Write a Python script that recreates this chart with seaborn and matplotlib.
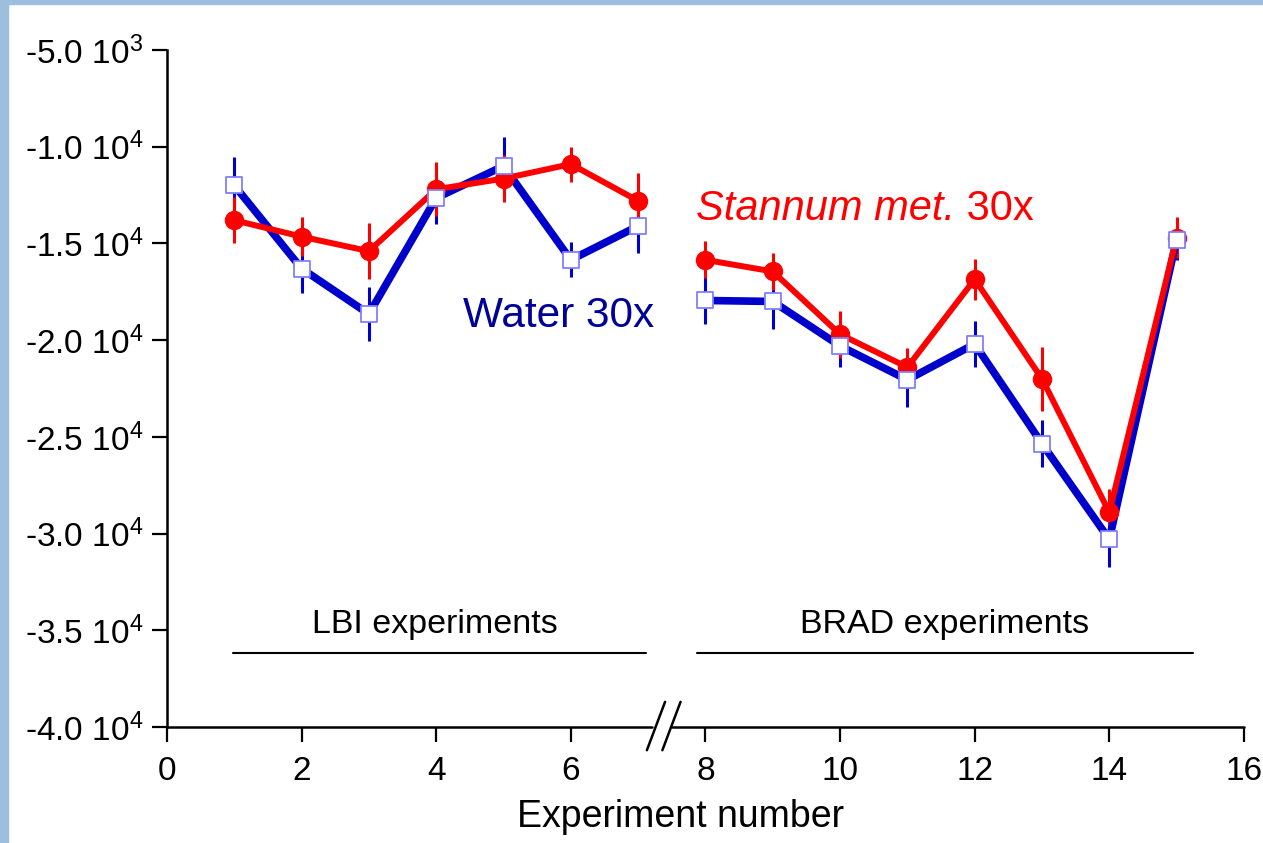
import numpy as np
import pandas as pd
import matplotlib.pyplot as plt
import matplotlib.patches as mpatches
import seaborn as sns

# data
experiment = [1, 2, 3, 4, 5, 6, 7, 8, 9, 10, 11, 12, 13, 14, 15]
series_group = ['LBI'] * 7 + ['BRAD'] * 8
water = [-12000, -16300, -18650, -12650, -11000, -15850, -14100,
         -17950, -18000, -20300, -22050, -20200, -25350, -30300, -14800]
water_err = [1450, 1250, 1400, 1350, 1500, 900, 1400,
             1200, 1400, 1100, 1400, 1200, 1200, 1450, 1050]
stannum = [-13800, -14650, -15400, -12200, -11650, -10900, -12800,
           -15850, -16450, -19700, -21400, -16850, -22000, -28900, -14700]
stannum_err = [1200, 1000, 1450, 1400, 1200, 900, 1450,
               950, 950, 1200, 1000, 1050, 1650, 1200, 1050]

y_ticks = [-40000, -35000, -30000, -25000, -20000, -15000, -10000, -5000]
y_tick_labels = ['-4.0 10$^{4}$', '-3.5 10$^{4}$', '-3.0 10$^{4}$', '-2.5 10$^{4}$',
                 '-2.0 10$^{4}$', '-1.5 10$^{4}$', '-1.0 10$^{4}$', '-5.0 10$^{3}$']
x_ticks = [0, 2, 4, 6, 8, 10, 12, 14, 16]

df = pd.DataFrame({'experiment': experiment, 'group': series_group,
                   'water': water, 'stannum': stannum})

sns.set_style('ticks')
plt.rcParams['font.family'] = ['Liberation Sans', 'DejaVu Sans']
plt.rcParams['mathtext.fontset'] = 'custom'
plt.rcParams['mathtext.rm'] = 'Liberation Sans'
plt.rcParams['mathtext.it'] = 'Liberation Sans:italic'
plt.rcParams['mathtext.default'] = 'regular'
plt.rcParams['text.color'] = 'black'
plt.rcParams['axes.labelcolor'] = 'black'
plt.rcParams['xtick.color'] = 'black'
plt.rcParams['ytick.color'] = 'black'

BLUE = '#0000cc'
RED = '#ff0000'

fig = plt.figure(figsize=(12.63, 8.43), dpi=100)
ax = fig.add_axes([0.1322, 0.1376, 0.8527, 0.8031])

# slide frame (light blue border left and top)
fig.patches.append(mpatches.Rectangle((0, 0), 8 / 1263, 1, transform=fig.transFigure,
                                      color='#9ebee0', zorder=0))
fig.patches.append(mpatches.Rectangle((0, 1 - 4 / 843), 1, 4 / 843, transform=fig.transFigure,
                                      color='#9ebee0', zorder=0))

# error bars
ax.errorbar(experiment, water, yerr=water_err, fmt='none', ecolor=BLUE,
            elinewidth=2.2, capsize=0, zorder=1)
ax.errorbar(experiment, stannum, yerr=stannum_err, fmt='none', ecolor=RED,
            elinewidth=2.2, capsize=0, zorder=2)

# lines (separate segments for the two experiment series)
sns.lineplot(data=df, x='experiment', y='water', units='group', estimator=None,
             color=BLUE, lw=5.5, ax=ax, zorder=2)
sns.lineplot(data=df, x='experiment', y='stannum', units='group', estimator=None,
             color=RED, lw=4.3, marker='o', markersize=14, markeredgewidth=0,
             ax=ax, zorder=3)
sns.scatterplot(data=df, x='experiment', y='water', marker='s', s=125,
                facecolor='white', edgecolor='#8080ff', linewidth=1.3, ax=ax, zorder=4)

ax.set_xlim(0, 16)
ax.set_ylim(-40000, -5000)
ax.set_xticks(x_ticks)
ax.set_yticks(y_ticks)
ax.set_yticklabels(y_tick_labels)
ax.tick_params(axis='both', labelsize=24, length=11, width=1.6, color='black',
               labelcolor='black')
ax.tick_params(axis='x', pad=10)
ax.tick_params(axis='y', pad=6)
ax.set_ylabel('')
ax.set_xlabel('Experiment number', fontsize=27)
ax.xaxis.set_label_coords(0.477, -0.107)

for side in ['top', 'right', 'bottom']:
    ax.spines[side].set_visible(False)
ax.spines['left'].set_linewidth(1.8)
ax.spines['left'].set_color('black')

# broken x axis
ax.plot([0, 7.21], [-40000, -40000], color='black', lw=1.8, clip_on=False, zorder=5)
ax.plot([7.51, 16], [-40000, -40000], color='black', lw=1.8, clip_on=False, zorder=5)
ax.plot([7.13, 7.40], [-41200, -38700], color='black', lw=1.8, clip_on=False, zorder=5)
ax.plot([7.36, 7.63], [-41200, -38700], color='black', lw=1.8, clip_on=False, zorder=5)

# group annotations
ax.plot([0.98, 7.12], [-36180, -36180], color='black', lw=1.5)
ax.plot([7.875, 15.25], [-36180, -36180], color='black', lw=1.5)
ax.text(3.98, -35150, 'LBI experiments', fontsize=24.5, ha='center', va='baseline')
ax.text(11.55, -35150, 'BRAD experiments', fontsize=24.5, ha='center', va='baseline')

ax.text(4.40, -19320, 'Water 30x', fontsize=30.5, color='#000099', ha='left', va='baseline')
t_it = ax.text(7.86, -13790, 'Stannum met.', fontsize=30, color=RED, style='italic',
               ha='left', va='baseline')
ax.annotate(' 30x', xy=(1, 0), xycoords=t_it, fontsize=30, color=RED,
            ha='left', va='bottom')

fig.savefig('out.png', dpi=100)
